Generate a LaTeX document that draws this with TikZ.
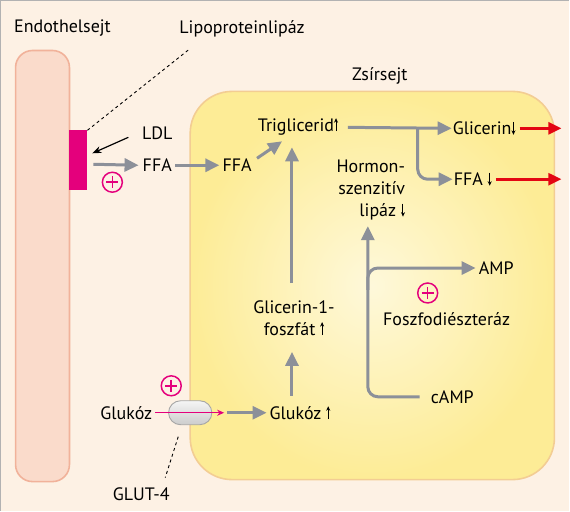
\documentclass[tikz,border=0pt]{standalone}
\usepackage{fontspec}
\setmainfont{PT Sans}
\usetikzlibrary{arrows, arrows.meta}
\usetikzlibrary{shapes.geometric, shapes.misc, positioning, calc}
\usepackage{xcolor}

\definecolor{bgcream}{HTML}{FDF1E4}
\definecolor{endofill}{HTML}{FADBCB}
\definecolor{endoline}{HTML}{F1B29A}
\definecolor{fatfill}{HTML}{FDEC96}
\definecolor{fatline}{HTML}{F3CD93}
\definecolor{flowgray}{HTML}{8C9099}
\definecolor{lipred}{HTML}{E30613}
\definecolor{magenta}{HTML}{E4007C}

\newcommand{\upar}{\tikz[baseline=0pt]\draw[-{Stealth[length=4.5pt,width=4pt]}, line width=1pt](0, 0) -- (0, 13pt);}
\newcommand{\downar}{\tikz[baseline=0pt]\draw[-{Stealth[length=4.5pt,width=4pt]}, line width=1pt](0, 13pt) -- (0, 0);}

\begin{document}
\begin{tikzpicture}[x=1pt, y=-1pt, font=\fontsize{18}{22}\selectfont,
    flow/.style={-{Triangle[length=14pt, width=13pt]}, flowgray, line width=3pt},
    efflux/.style={-{Triangle[length=13pt, width=12pt]}, lipred, line width=2.6pt},
    plus/.style={circle, draw=magenta, line width=1.5pt, minimum size=20pt, inner sep=0pt},
    lbl/.style={inner sep=1pt, align=center}]

      % background and frame
      \fill[bgcream] (0, 0) rectangle (570, 511);
      \draw[gray!60, line width=1.2pt] (0, 511) -- (0, 0) -- (570, 0);
      \useasboundingbox (0, 0) rectangle (570, 511);

      % cells
      \draw[endoline, fill=endofill, line width=1.6pt, rounded corners=17pt] (15, 50) rectangle (69, 482);
      \shade[inner color=fatfill!35!white, outer color=fatfill, rounded corners=42pt]
        (190, 91) rectangle (555, 480);
      \draw[fatline, line width=1.6pt, rounded corners=42pt] (190, 91) rectangle (555, 480);

      \node[lbl] (endo) at (62, 28) {Endothelsejt};
      \node[lbl] (zsir) at (380, 75) {Zsírsejt};

      % lipoproteinlipase on the endothelium
      \fill[magenta] (69, 130) rectangle (87, 190);
      \coordinate (lpl) at (87, 130);
      \coordinate (lpltip) at (190, 48);
      \node[lbl] (lipo) at (242, 28) {Lipoproteinlipáz};
      \draw[dashed, line width=0.9pt] (lpl) -- (lpltip);

      \node[lbl] (ldl) at (157, 133) {LDL};
      \coordinate (ldlin) at (92, 153);
      \draw[-{Stealth[length=9pt, width=7pt]}, line width=1.2pt] (128, 137) -- (ldlin);
      \node[lbl] (ffa1) at (157, 165) {FFA};
      \node[lbl] (ffa2) at (237, 165) {FFA};
      \node[plus] (p1) at (112, 182) {};
      \draw[magenta, line width=1.5pt] (p1.center) ++(-6, 0) -- ++(12, 0) (p1.center) ++(0, -6) -- ++(0, 12);
      \coordinate (lplout) at (93, 164);
      \draw[flow] (lplout) -- ([xshift=-3pt]ffa1.west);
      \draw[flow] ([xshift=2pt]ffa1.east) -- ([xshift=-2pt]ffa2.west);

      % fat cell
      \node[lbl] (tg) at (298, 126) {Triglicerid\upar};
      \coordinate (tgin) at (282, 141);
      \draw[flow] (257, 158) -- (tgin);
      \node[lbl, anchor=west] (gli) at (452, 128) {Glicerin\downar};
      \node[lbl, anchor=west] (ffa3) at (453, 179) {FFA \downar};
      \draw[flow] (348, 127) -- (gli.west);
      \draw[flow, rounded corners=10pt] (418, 127) -- (418, 179) -- (ffa3.west);
      \coordinate (gliout) at (562, 128);
      \coordinate (ffaout) at (562, 179);
      \draw[efflux] ([xshift=3pt]gli.east) -- (gliout);
      \draw[efflux] ([xshift=3pt]ffa3.east) -- (ffaout);

      \node[lbl, align=right] (hsl) at (371, 190) {Hormon-\\szenzitív\\lipáz \downar};

      \node[lbl] (g1p) at (294, 318) {Glicerin-1-\\foszfát \upar};
      \coordinate (tgbase) at (292, 147);
      \draw[flow] (292, 283) -- (tgbase);

      \node[lbl, anchor=west] (camp) at (430, 397) {cAMP};
      \node[lbl, anchor=west] (amp) at (478, 268) {AMP};
      \coordinate (hslin) at (368, 226);
      \draw[flow, rounded corners=10pt] ([xshift=-10pt]camp.west) -- (368, 397) -- (hslin);
      \draw[flow, rounded corners=10pt] (368, 290) -- (368, 268) -- ([xshift=-2pt]amp.west);
      \node[plus] (p2) at (428, 293) {};
      \draw[magenta, line width=1.5pt] (p2.center) ++(-6, 0) -- ++(12, 0) (p2.center) ++(0, -6) -- ++(0, 12);
      \node[lbl] (pde) at (447, 319) {Foszfodiészteráz};

      % glucose uptake
      \node[lbl] (gluk2) at (300, 413) {Glukóz \upar};
      \node[lbl] (gluk1) at (126, 413) {Glukóz};
      \coordinate (g1pbase) at (292, 352);
      \draw[flow] (292, 396) -- (g1pbase);
      \node[draw=gray!70, line width=0.9pt, rounded rectangle, minimum width=50pt, minimum height=24pt,
        top color=gray!8, bottom color=gray!40] (glut) at (190, 413) {};
      \coordinate (glutend) at (224, 413);
      \draw[-{Stealth[length=7pt, width=6pt]}, magenta, line width=1.4pt] ([xshift=2pt]gluk1.east) -- (glutend);
      \draw[flow] ([xshift=3pt]glutend) -- ([xshift=-2pt]gluk2.west);
      \node[plus] (p3) at (171, 386) {};
      \draw[magenta, line width=1.5pt] (p3.center) ++(-6, 0) -- ++(12, 0) (p3.center) ++(0, -6) -- ++(0, 12);
      \node[lbl] (glut4) at (141, 495) {GLUT-4};
      \coordinate (glutfoot) at (178, 437);
      \draw[dashed, line width=0.9pt] (glutfoot) -- (165, 478);

\end{tikzpicture}
\end{document}
